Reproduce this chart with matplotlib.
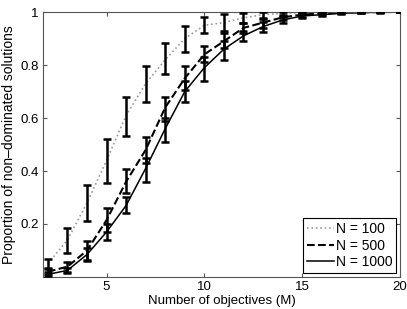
import matplotlib
matplotlib.use("Agg")
import matplotlib.pyplot as plt
import numpy as np

plt.rcParams['font.family'] = ['Liberation Sans', 'DejaVu Sans']

M = list(range(2, 21))

# N = 100
mean_100 = [0.05, 0.14, 0.28, 0.44, 0.61, 0.73, 0.82, 0.90, 0.95, 0.96, 0.978, 0.99, 0.995, 0.998, 1.0, 1.0, 1.0, 1.0, 1.0]
lo_100 = [0.029, 0.092, 0.211, 0.356, 0.532, 0.662, 0.766, 0.850, 0.920, 0.928, 0.958, 0.975, 0.985, 0.992, 0.996, 0.998, 0.999, 1.0, 1.0]
hi_100 = [0.068, 0.186, 0.347, 0.521, 0.680, 0.796, 0.882, 0.948, 0.982, 0.992, 0.997, 1.0, 1.0, 1.0, 1.0, 1.0, 1.0, 1.0, 1.0]

# N = 500
mean_500 = [0.02, 0.039, 0.10, 0.215, 0.36, 0.48, 0.64, 0.75, 0.84, 0.89, 0.94, 0.96, 0.98, 0.99, 0.995, 0.998, 0.999, 1.0, 1.0]
lo_500 = [0.01, 0.02, 0.065, 0.17, 0.316, 0.43, 0.59, 0.705, 0.81, 0.865, 0.92, 0.94, 0.968, 0.982, 0.99, 0.995, 0.997, 0.999, 1.0]
hi_500 = [0.035, 0.058, 0.135, 0.26, 0.406, 0.53, 0.68, 0.795, 0.87, 0.92, 0.96, 0.978, 0.99, 0.997, 1.0, 1.0, 1.0, 1.0, 1.0]

# N = 1000
mean_1000 = [0.01, 0.025, 0.085, 0.17, 0.27, 0.41, 0.56, 0.70, 0.79, 0.86, 0.91, 0.945, 0.97, 0.985, 0.99, 0.995, 0.998, 0.999, 1.0]
lo_1000 = [0.003, 0.015, 0.06, 0.14, 0.24, 0.36, 0.51, 0.66, 0.74, 0.82, 0.89, 0.925, 0.958, 0.976, 0.984, 0.991, 0.995, 0.997, 0.999]
hi_1000 = [0.018, 0.035, 0.11, 0.20, 0.30, 0.45, 0.60, 0.74, 0.83, 0.89, 0.93, 0.962, 0.982, 0.992, 0.996, 0.999, 1.0, 1.0, 1.0]

labels = ['N = 100', 'N = 500', 'N = 1000']

fig = plt.figure(figsize=(4.07, 3.09), dpi=100)
ax = fig.add_axes([0.1057, 0.1036, 0.877, 0.8575])

def draw(mean, lo, hi, ls, color, lw, label):
    mean = np.array(mean); lo = np.array(lo); hi = np.array(hi)
    ax.plot(M, mean, linestyle=ls, color=color, lw=lw, label=label, zorder=2)
    ax.errorbar(M, mean, yerr=[mean - lo, hi - mean], fmt='none', ecolor='black',
                elinewidth=1.8, capsize=3.2, capthick=1.8, zorder=3)

draw(mean_100, lo_100, hi_100, ':', '#9a9a9a', 1.2, labels[0])
draw(mean_500, lo_500, hi_500, '--', 'black', 1.5, labels[1])
draw(mean_1000, lo_1000, hi_1000, '-', 'black', 1.1, labels[2])

ax.set_xlim(1.75, 20)
ax.set_ylim(0, 1)
ax.set_xticks([5, 10, 15, 20])
ax.set_yticks([0.2, 0.4, 0.6, 0.8, 1.0])
ax.set_yticklabels(['0.2', '0.4', '0.6', '0.8', '1'])
ax.tick_params(direction='in', top=True, right=True, labelsize=9.5, length=3,
               color='#555555', pad=3)
for s in ax.spines.values():
    s.set_color('#555555')
    s.set_linewidth(0.8)

ax.set_xlabel('Number of objectives (M)', fontsize=9.5, labelpad=1)
ax.set_ylabel('Proportion of non\u2013dominated solutions', fontsize=10, labelpad=3)

leg = ax.legend(loc='lower right', fontsize=10, fancybox=False, edgecolor='black',
                framealpha=1, borderaxespad=0.3, handlelength=2.0, handletextpad=0.1,
                borderpad=0.25, labelspacing=0.2)
leg.get_frame().set_linewidth(0.8)

fig.savefig('out.png', dpi=100)
